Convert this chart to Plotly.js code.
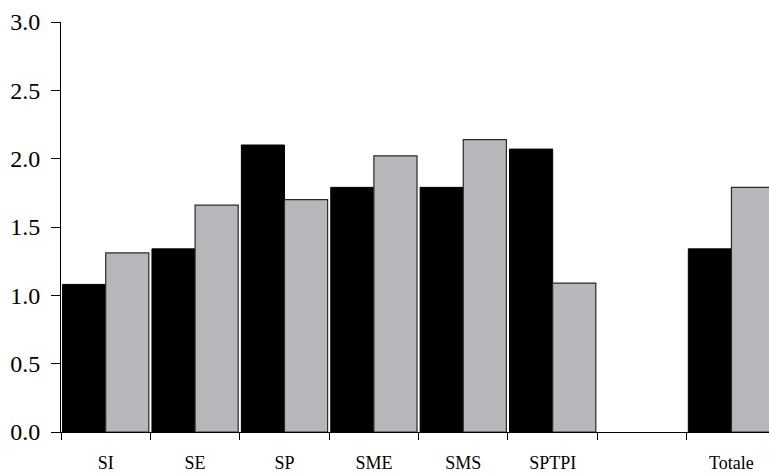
<!DOCTYPE html>
<html>
<head>
<meta charset="utf-8">
<script src="https://cdn.plot.ly/plotly-3.0.1.min.js"></script>
<style>html,body{margin:0;padding:0;background:#fff;}#chart{width:769px;height:474px;}</style>
</head>
<body>
<div id="chart"></div>
<script>
var categories = ['SI', 'SE', 'SP', 'SME', 'SMS', 'SPTPI', ' ', 'Totale'];
var seriesBlack = [1.08, 1.34, 2.10, 1.79, 1.79, 2.07, null, 1.34];
var seriesGray  = [1.31, 1.66, 1.70, 2.02, 2.14, 1.09, null, 1.79];
var yTicks = [0, 0.5, 1.0, 1.5, 2.0, 2.5, 3.0];

var traces = [
  {type: 'bar', x: categories, y: seriesBlack, name: 'A',
   marker: {color: '#000000', line: {color: '#000000', width: 1}}},
  {type: 'bar', x: categories, y: seriesGray, name: 'B',
   marker: {color: '#b6b7bb', line: {color: '#2a2a2a', width: 1.2}}}
];

var layout = {
  width: 769, height: 474,
  margin: {l: 61, r: 0, t: 22, b: 42},
  paper_bgcolor: '#ffffff', plot_bgcolor: '#ffffff',
  showlegend: false,
  barmode: 'group', bargap: 0.035, bargroupgap: 0,
  font: {family: '"Liberation Serif", "Times New Roman", serif', color: '#000'},
  xaxis: {
    type: 'category', range: [-0.5, 7.42], automargin: false,
    showline: true, linecolor: '#000', linewidth: 1,
    ticks: 'outside', tickson: 'boundaries', ticklen: 7, tickcolor: '#000', tickwidth: 1,
    showgrid: false, zeroline: false,
    tickfont: {size: 18, family: '"Liberation Serif", serif'},
    ticklabelstandoff: 14
  },
  yaxis: {
    range: [0, 3], tickvals: yTicks, tickformat: '.1f', automargin: false,
    showline: true, linecolor: '#000', linewidth: 1,
    ticks: 'outside', ticklen: 9, tickcolor: '#000', tickwidth: 1,
    showgrid: false, zeroline: false,
    tickfont: {size: 24, family: '"Liberation Serif", serif'},
    ticklabelstandoff: 6
  }
};

Plotly.newPlot('chart', traces, layout, {displayModeBar: false, staticPlot: true});
</script>
</body>
</html>
